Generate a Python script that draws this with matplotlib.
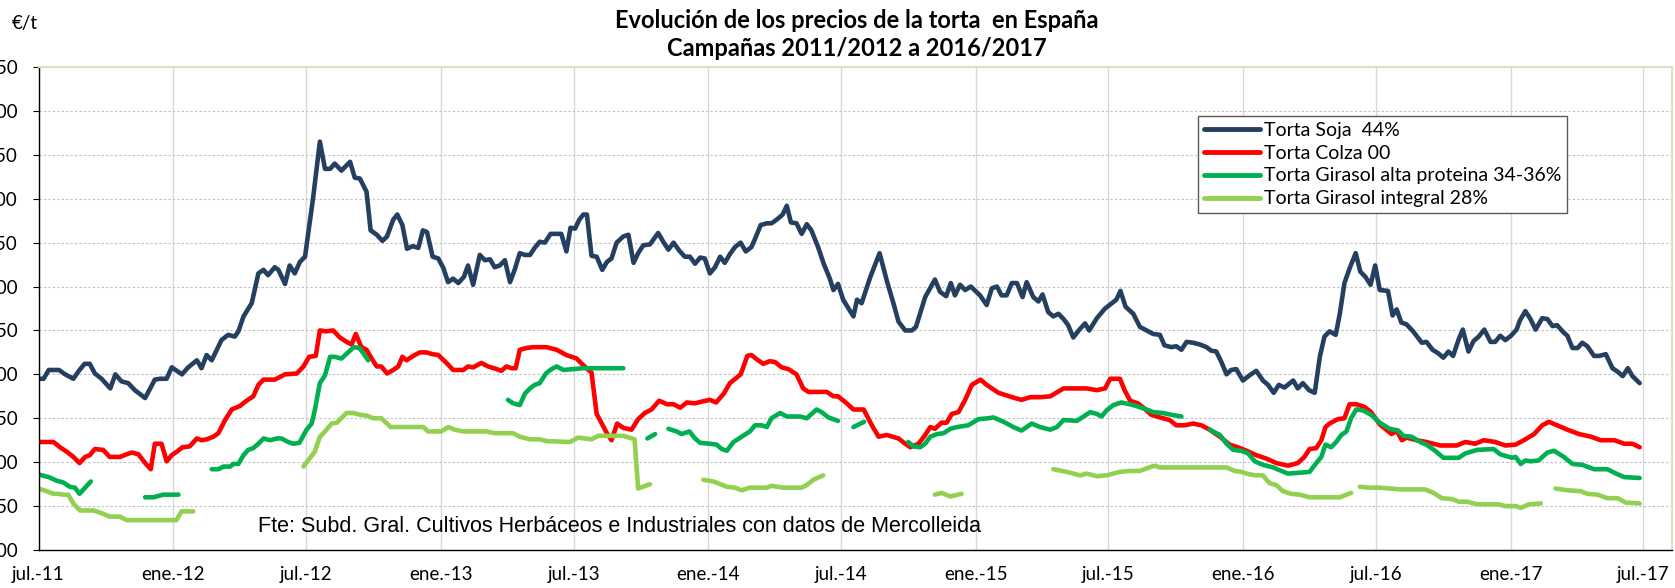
import numpy as np
import pandas as pd
import matplotlib
matplotlib.use("Agg")
import matplotlib.pyplot as plt

# Precios semanales (EUR/t). Eje x en semanas desde el 1 de julio de 2011.
# None marca un hueco en la serie.
soja_sem = [0, 1, 2, 4, 5.2, 6.8, 8, 9, 10, 11, 12.3, 14, 15, 16.2, 17.5, 18.8, 20.8, 22.7, 23.7, 25,
            26, 28, 29.2, 30.9, 31.8, 32.8, 33.8, 35.7, 37, 38.3, 39, 40, 41.6, 42.9, 43.9, 44.8, 46.1, 46.8, 48.1, 49,
            50, 51, 52, 53.6, 54.9, 55.9, 56.9, 57.8, 59.1, 60.8, 61.7, 62.7, 64, 64.8, 66, 67.1, 68, 69.2, 70, 71,
            71.9, 73, 74.1, 75, 75.8, 76.9, 78, 79, 79.9, 80.9, 81.9, 83, 83.8, 84.8, 86.1, 87.1, 88.1, 89, 90, 91,
            92, 92.9, 93.9, 94.9, 95.9, 96.8, 97.8, 98.8, 99.9, 101.1, 102, 103, 103.8, 104.7, 105.5, 106.3, 107, 107.9, 108.9, 110,
            110.9, 111.8, 112.8, 114.1, 115.1, 116.1, 117, 118, 119.3, 120.9, 121.9, 122.9, 123.9, 125, 126.1, 127.1, 128.1, 129.1, 130, 131,
            132, 133, 133.9, 134.9, 135.9, 137, 138, 139.1, 140, 140.9, 142.1, 143, 144, 145.2, 146, 146.8, 147.9, 148.9, 149.9, 150.8,
            152.1, 153.2, 154.4, 155.1, 156, 157, 159, 159.7, 160.6, 162.3, 164.1, 165.5, 166.8, 167.8, 169.1, 170.4, 171.2, 173, 174.9, 175.9,
            177.1, 178, 178.8, 179.8, 180.8, 181.9, 183.7, 185, 186, 187, 187.9, 188.9, 189.9, 190.9, 192, 192.8, 194.1, 195.1, 195.9, 197,
            198, 199, 200, 200.9, 201.9, 203.1, 204.2, 205, 206.5, 208.1, 209.2, 210.3, 211.1, 212.1, 213.6, 214.9, 216.2, 217.5, 218.8, 219.7,
            221, 222, 223, 224, 225.3, 226.6, 227.9, 228.8, 229.8, 230.8, 231.8, 232.7, 233.7, 235, 236.3, 237.6, 238.9, 239.9, 241, 242,
            243.1, 244.8, 245.7, 246.7, 247.9, 249, 250, 250.9, 251.9, 253.1, 253.9, 254.8, 255.9, 257, 257.9, 258.9, 259.9, 260.8, 261.7, 263.3,
            264.2, 265, 265.9, 266.9, 268.2, 269.9, 270.8, 272, 273.1, 274.1, 275.1, 276, 277.1, 277.9, 279, 280, 281, 282.1, 283.3, 284.2,
            285.2, 286.2, 287.3, 288.4, 289, 290.1, 291.1, 292.1, 293.4, 294.4, 295.4, 296.3, 297.5, 298.3, 299.3, 300.3, 301.2, 302.2, 303.5, 304.5,
            305.8, 307.1, 308.1, 309.1, 310.1, 311, 312.4]
soja_val = [295, 295, 305, 305, 300, 295, 305, 312, 312, 301, 295, 284, 300, 292, 290, 282, 273, 294, 295, 295,
            308, 300, 308, 316, 307, 322, 316, 339, 345, 343, 349, 366, 381, 415, 419, 413, 422, 419, 403, 424,
            415, 428, 434, 502, 565, 534, 534, 540, 532, 542, 524, 523, 508, 464, 459, 452, 457, 476, 482, 470,
            443, 446, 444, 464, 462, 434, 432, 421, 405, 409, 404, 411, 424, 402, 436, 430, 431, 422, 424, 430,
            405, 419, 438, 436, 436, 444, 451, 450, 460, 460, 460, 440, 467, 466, 476, 482, 482, 435, 434, 419,
            428, 432, 450, 457, 459, 427, 438, 447, 448, 461, 451, 442, 450, 441, 434, 434, 426, 433, 432, 415,
            422, 434, 427, 437, 445, 450, 440, 445, 457, 470, 472, 472, 476, 482, 492, 473, 472, 460, 471, 464,
            445, 426, 409, 396, 403, 385, 366, 385, 381, 411, 438, 407, 381, 360, 350, 350, 354, 388, 408, 394,
            389, 404, 390, 402, 396, 400, 390, 379, 398, 400, 390, 390, 404, 404, 388, 405, 388, 383, 391, 371,
            366, 369, 363, 356, 342, 351, 358, 350, 364, 375, 380, 385, 395, 377, 369, 354, 350, 346, 345, 333,
            331, 332, 328, 337, 336, 334, 331, 327, 326, 314, 300, 305, 306, 293, 299, 304, 293, 288, 279, 288,
            285, 293, 284, 290, 282, 279, 320, 343, 349, 345, 369, 404, 422, 438, 417, 411, 402, 424, 396, 395,
            367, 374, 359, 357, 349, 336, 337, 328, 324, 319, 326, 321, 340, 351, 326, 338, 343, 351, 337, 337,
            344, 339, 344, 351, 361, 372, 363, 351, 364, 363, 355, 356, 348, 344, 330, 330, 336, 332, 321, 321,
            323, 307, 303, 298, 307, 298, 290]

colza_sem = [0, 2.9, 4.2, 5.5, 6.8, 8, 9.1, 10, 11, 12.6, 13.9, 15.9, 17.2, 18.2, 19.5, 20.8, 21.9, 22.7, 24, 25,
             26, 27, 28.1, 29.5, 30.9, 31.8, 32.8, 34.1, 35.1, 36.4, 37.7, 39.3, 40.6, 41.9, 42.9, 43.9, 46.1, 48.1, 50.4, 51.7,
             52.8, 54.1, 54.9, 56.1, 57.5, 58.8, 60.1, 61.1, 61.9, 63, 64, 65, 66, 66.9, 68, 69.2, 70.2, 71, 71.8, 73.1,
             74.4, 75.7, 76.9, 78, 79.6, 80.9, 82.9, 83.8, 84.8, 86.4, 87.7, 89.4, 90.3, 91.3, 92.3, 93.1, 93.9, 95.2, 96.5, 99.1,
             101.1, 103, 105, 106, 107.9, 108.9, 109.9, 110.9, 111.8, 112.9, 114.1, 115.7, 117, 118.3, 119.6, 121.1, 122.6, 123.9, 125.2, 126.5,
             128.1, 129.4, 131, 132.2, 133.7, 134.9, 137, 138.3, 139.1, 140.2, 141.4, 142.7, 143.7, 145, 146.3, 147.9, 149.2, 150.2, 153.8, 155.1,
             156, 157.7, 159, 161, 162.6, 163.9, 165.5, 167.8, 169.1, 170.1, 171.7, 173, 174, 174.9, 176.2, 177.2, 178.2, 179.5, 180.8, 182.1,
             183.8, 185, 187.3, 188.9, 190.5, 191.8, 193.5, 195.4, 197.4, 200, 202.6, 204.5, 206.5, 208.1, 209.1, 211, 211.9, 213, 214.5, 215.8,
             217.1, 218.8, 220.7, 222, 223.6, 225.3, 226.9, 228.5, 230.5, 232.4, 234, 235.7, 237.6, 239.6, 241.5, 243.8, 245.7, 247, 248, 249.3,
             250.3, 251.1, 251.9, 253.5, 254.8, 255.8, 257.1, 258.7, 260, 261.7, 264, 265, 266, 266.9, 268.9, 270.8, 273.5, 276.7, 278.4, 280.3,
             282, 284.2, 286.2, 288.2, 289.8, 291.8, 293.4, 294.7, 296.3, 298.3, 300.6, 302.9, 304.8, 307.5, 309.4, 311, 312.4]
colza_val = [223, 223, 217, 212, 206, 199, 206, 208, 215, 214, 206, 206, 209, 211, 209, 199, 192, 221, 221, 201,
             208, 212, 217, 218, 227, 225, 226, 229, 233, 248, 260, 264, 270, 275, 288, 294, 294, 300, 301, 309,
             320, 321, 350, 349, 350, 342, 337, 334, 346, 331, 328, 318, 309, 309, 301, 305, 309, 320, 316, 321,
             325, 325, 323, 322, 313, 305, 305, 309, 308, 313, 309, 306, 304, 309, 307, 307, 328, 330, 331, 331,
             328, 322, 318, 312, 302, 255, 244, 233, 225, 244, 239, 237, 249, 256, 260, 270, 266, 266, 262, 268,
             267, 269, 271, 268, 278, 290, 300, 321, 322, 317, 312, 315, 314, 308, 306, 300, 284, 280, 280, 275,
             275, 267, 260, 260, 242, 229, 231, 227, 221, 217, 221, 231, 240, 238, 245, 245, 255, 257, 271, 288,
             294, 288, 279, 276, 273, 271, 274, 274, 275, 284, 284, 284, 282, 284, 295, 295, 282, 270, 267, 261,
             254, 251, 248, 242, 242, 244, 242, 237, 229, 220, 217, 213, 208, 204, 199, 196, 199, 206, 215, 216,
             225, 240, 244, 249, 250, 266, 266, 263, 257, 243, 232, 236, 225, 228, 225, 223, 219, 219, 223, 221,
             225, 223, 219, 220, 225, 232, 242, 246, 242, 237, 232, 229, 225, 225, 221, 221, 217]

girasol_ap_sem = [0, 2, 3.5, 4.8, 6.1, 7.1, 8, 9.1, 10.2, None,
                  20.8, 22.4, 24.3, 27.3, None,
                  33.8, 35.1, 36.1, 37.4, 38, 39, 40, 40.9, 41.9, 42.9, 43.9, 45.2, 46.5, 47.4, 48.7, 49.7, 50.9, 52.3, 53.3, 53.9,
                  54.9, 55.9, 56.9, 57.8, 59.1, 60.4, 61.5, 62.6, 63.4, 64.3, None,
                  91.6, 92.6, 93.9, 94.9, 95.9, 96.8, 97.8, 99, 100.1, 101.1, 102.4, 106.3, 114.1, None,
                  118.8, 120.3, None,
                  122.9, 124.5, 125.5, 127, 128.1, 129.1, 131, 132.3, 133.3, 134.3, 135.6, 137.2, 138.8, 139.8, 141.1, 142.1, 143, 144.7,
                  146, 148.6, 149.9, 151.8, 152.8, 154.1, 156, None,
                  159, 161.1, None,
                  169.7, 170.7, 172, 173, 174, 175.3, 176.6, 177.9, 179.2, 181.4, 183.4, 185.3, 186.3, 188.3, 190.2, 191.8, 193.8, 195.4,
                  197.4, 198.7, 200, 202.6, 203.9, 205.2, 206.5, 207.4, 208.4, 209.7, 211.3, 212.9, 214.2, 216.2, 217.5, 219.4, 221, 223, None,
                  228.5, 230.5, 231.8, 233.1, 234.7, 236, 237.3, 238.9, 240.9, 242.5, 243.8, 246.1, 248, 249.3, 250.3, 251.1, 252.2, 253.2,
                  254.2, 255.2, 256.1, 257.1, 258.4, 260, 261.7, 263.6, 265.3, 266.3, 267.9, 269.9, 270.8, 272.5, 274.1, 277.1, 278.4, 280.7,
                  283.9, 285.2, 287.5, 288.2, 289.2, 290.1, 291.1, 292.7, 294.4, 295.7, 297.6, 299.3, 301.2, 303.5, 306.1, 307.8, 309.4, 312.4]
girasol_ap_val = [186, 183, 179, 177, 172, 171, 164, 171, 178, None,
                  160, 160, 163, 163, None,
                  192, 192, 195, 195, 198, 198, 208, 214, 216, 221, 227, 225, 227, 227, 223, 221, 222, 237, 244, 259,
                  290, 299, 320, 320, 318, 325, 331, 330, 324, 316, None,
                  271, 267, 265, 278, 284, 288, 290, 301, 306, 309, 305, 307, 307, None,
                  227, 232, None,
                  238, 235, 232, 235, 227, 222, 221, 220, 215, 213, 223, 229, 235, 242, 242, 240, 250, 256,
                  252, 252, 250, 260, 257, 251, 247, None,
                  240, 246, None,
                  223, 218, 217, 221, 229, 232, 233, 238, 240, 242, 249, 250, 251, 246, 240, 236, 244, 240,
                  237, 240, 248, 247, 252, 257, 255, 252, 259, 265, 268, 266, 264, 260, 257, 256, 254, 252, None,
                  237, 231, 221, 214, 213, 210, 201, 197, 194, 190, 187, 188, 189, 199, 206, 220, 217, 223,
                  231, 235, 250, 260, 259, 254, 245, 238, 236, 230, 229, 222, 220, 213, 205, 205, 210, 214,
                  215, 209, 205, 206, 198, 202, 201, 202, 211, 213, 206, 198, 197, 192, 192, 187, 183, 182]

girasol_int_sem = [0, 1.6, 2.9, 3.9, 4.8, 5.8, 6.8, 8.1, 10.7, 12.3, 13.9, 15.9, 17.2, 26.9, 27.9, 30.2, None,
                   51.7, 52.6, 53.9, 54.9, 55.9, 57.2, 58.2, 60.1, 61.4, 62.7, 64, 65.3, 66.9, 68.7, 70.5, 75.1, 76, 78.6, 79.9,
                   81.2, 82.9, 87.4, 89, 92.6, 93.9, 95.9, 97.8, 99.1, 103.7, 105.3, 107.9, 109.2, 114.1, 115.7, 116.3, 117, 119.3, None,
                   129.7, 131.7, 134.3, 135.9, 137.2, 138.8, 142.1, 143, 145.3, 148.9, 149.9, 151.2, 153.1, None,
                   174.9, 176.2, 177.9, 180.1, None,
                   198, 200.6, 203.2, 204.5, 206.5, 208.4, 211, 212.9, 214.9, 216.2, 217.8, 218.8, 231.8, 233.4, 234.7, 235.7, 237.3, 238.9,
                   240.2, 241.5, 242.8, 244.4, 246.1, 248, 253.9, 256.1, None,
                   257.8, 259.7, 261.7, 263.7, 265.6, 270.5, 272.2, 273.8, 275.8, 277.1, 278.7, 280.7, 284.9, 286.2, 288.2, 289.2, 290.8, 293.1, None,
                   296, 298.3, 300.9, 302.2, 304.2, 306.1, 308.1, 309.7, 312.4]
girasol_int_val = [170, 167, 164, 164, 163, 163, 153, 145, 145, 142, 138, 138, 134, 134, 144, 144, None,
                   195, 202, 212, 229, 235, 244, 245, 256, 256, 254, 253, 250, 250, 240, 240, 240, 235, 235, 240,
                   237, 235, 235, 233, 233, 229, 226, 226, 224, 223, 228, 226, 230, 230, 227, 226, 170, 175, None,
                   180, 178, 172, 171, 168, 171, 171, 173, 171, 171, 174, 180, 185, None,
                   163, 165, 161, 164, None,
                   192, 189, 185, 187, 184, 185, 189, 190, 190, 193, 196, 194, 194, 190, 189, 187, 185, 185,
                   176, 174, 167, 164, 163, 160, 160, 165, None,
                   172, 171, 171, 170, 169, 169, 165, 159, 158, 155, 155, 152, 152, 150, 150, 148, 152, 153, None,
                   170, 168, 167, 164, 163, 159, 159, 154, 153]

meses = ["2011-07-01", "2012-01-01", "2012-07-01", "2013-01-01", "2013-07-01", "2014-01-01", "2014-07-01",
         "2015-01-01", "2015-07-01", "2016-01-01", "2016-07-01", "2017-01-01", "2017-07-01"]
etiquetas = ["jul.-11", "ene.-12", "jul.-12", "ene.-13", "jul.-13", "ene.-14", "jul.-14",
             "ene.-15", "jul.-15", "ene.-16", "jul.-16", "ene.-17", "jul.-17"]

series = [
    ("Torta Soja  44%", soja_sem, soja_val, "#243F60"),
    ("Torta Colza 00", colza_sem, colza_val, "#FF0000"),
    ("Torta Girasol alta proteina 34-36%", girasol_ap_sem, girasol_ap_val, "#00B050"),
    ("Torta Girasol integral 28%", girasol_int_sem, girasol_int_val, "#92D050"),
]

inicio = pd.Timestamp("2011-07-01")
ticks = (pd.to_datetime(meses) - inicio).days / 7
x_fin = (pd.Timestamp("2017-08-09") - inicio).days / 7

fuente = "Lato"
W, H = 1675, 588
fig = plt.figure(figsize=(W / 100, H / 100), dpi=100)
ax = fig.add_axes([38.5 / W, 1 - 550 / H, (1672 - 38.5) / W, (550 - 67) / H])

for nombre, sem, val, color in series:
    x = np.array(sem, dtype=float)
    y = np.array(val, dtype=float)
    ax.plot(x, y, color=color, lw=3.3, label=nombre,
            solid_capstyle="round", solid_joinstyle="round")

ax.set_xlim(0, x_fin)
ax.set_ylim(100, 650)
ax.set_yticks(np.arange(100, 651, 50))
ax.set_xticks(ticks)
ax.set_xticklabels(etiquetas, fontfamily=fuente, fontsize=13.5)
for t in ax.get_yticklabels():
    t.set_fontfamily(fuente)
    t.set_fontsize(13.5)

ax.tick_params(axis="y", length=4.3, width=0.8, pad=10.5, direction="out")
ax.tick_params(axis="x", length=0, pad=11.5)

ax.yaxis.grid(True, color="#bfbfbf", lw=0.8, linestyle=(0, (2, 2)))
ax.xaxis.grid(True, color="#d9d9d9", lw=1.0, linestyle="-")
ax.set_axisbelow(True)

for lado in ["top", "right"]:
    ax.spines[lado].set_color("#d7e4bd")
    ax.spines[lado].set_linewidth(1.5)
for lado in ["left", "bottom"]:
    ax.spines[lado].set_color("black")
    ax.spines[lado].set_linewidth(1.0)

leg = ax.legend(loc="upper left", bbox_to_anchor=(1198 / W, 1 - 116 / H),
                bbox_transform=fig.transFigure, borderaxespad=0,
                prop={"family": fuente, "size": 14}, frameon=True, fancybox=False,
                framealpha=1, edgecolor="#595959", handlelength=2.9, handletextpad=0.2,
                labelspacing=0.3, borderpad=0.3)
leg.get_frame().set_linewidth(1.0)
for linea in leg.get_lines():
    linea.set_linewidth(3.5)

fig.text(857 / W, 1 - 20 / H, "Evolución de los precios de la torta  en España",
         ha="center", va="center", fontfamily=fuente, fontweight="bold", fontsize=17)
fig.text(857 / W, 1 - 48 / H, "Campañas 2011/2012 a 2016/2017",
         ha="center", va="center", fontfamily=fuente, fontweight="bold", fontsize=17)
fig.text(12 / W, 1 - 24 / H, "€/t", ha="left", va="center", fontfamily=fuente, fontsize=13.5)
fig.text(258 / W, 1 - 527 / H,
         "Fte: Subd. Gral. Cultivos Herbáceos e Industriales con datos de Mercolleida",
         ha="left", va="center", fontfamily="Liberation Sans", fontsize=15.5)

fig.savefig("out.png", dpi=100)
